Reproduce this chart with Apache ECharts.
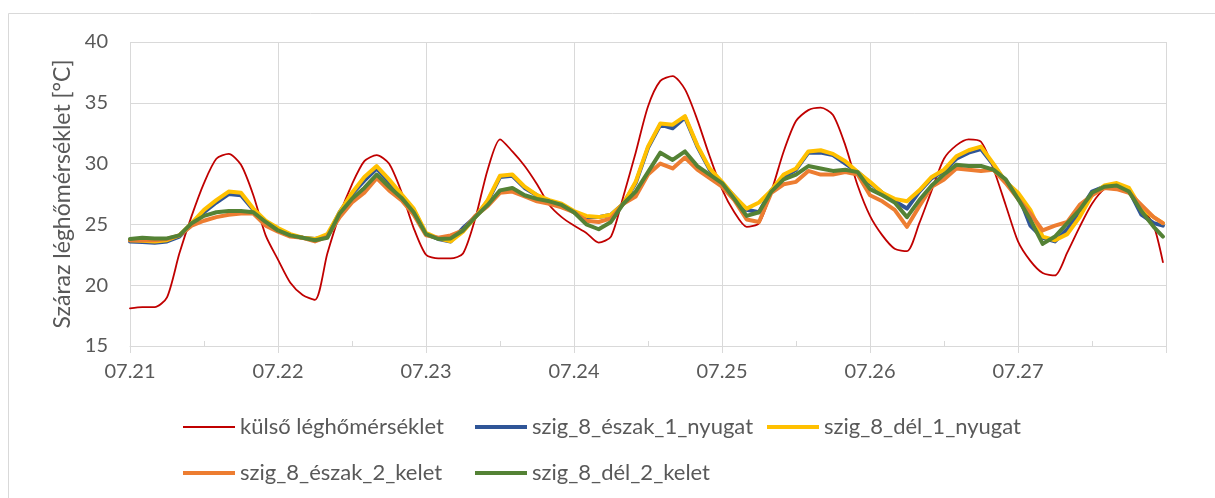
<!DOCTYPE html>
<html>
<head>
<meta charset="utf-8">
<script src="https://cdn.jsdelivr.net/npm/echarts@6/dist/echarts.min.js"></script>
<style>
  html, body { margin: 0; padding: 0; background: #ffffff; }
  #chart { width: 1215px; height: 498px; }
</style>
</head>
<body>
<div id="chart"></div>
<script>
// Hour offsets from 07.21 00:00 (two-hourly readings, last reading late on 07.27)
const hours = [
  0, 2, 4, 6, 8, 10, 12, 14, 16, 18, 20, 22,
  24, 26, 28, 30, 32, 34, 36, 38, 40, 42, 44, 46,
  48, 50, 52, 54, 56, 58, 60, 62, 64, 66, 68, 70,
  72, 74, 76, 78, 80, 82, 84, 86, 88, 90, 92, 94,
  96, 98, 100, 102, 104, 106, 108, 110, 112, 114, 116, 118,
  120, 122, 124, 126, 128, 130, 132, 134, 136, 138, 140, 142,
  144, 146, 148, 150, 152, 154, 156, 158, 160, 162, 164, 166, 167.5
];

const dayLabels = ['07.21', '07.22', '07.23', '07.24', '07.25', '07.26', '07.27'];

const seriesNames = [
  'külső léghőmérséklet',
  'szig_8_észak_1_nyugat',
  'szig_8_dél_1_nyugat',
  'szig_8_észak_2_kelet',
  'szig_8_dél_2_kelet'
];

// külső léghőmérséklet [°C]
const kulso = [
  18.1, 18.2, 18.2, 19.0, 22.6, 25.7, 28.4, 30.4, 30.8, 29.9, 27.4, 24.1,
  22.1, 20.2, 19.2, 18.8, 22.6, 25.8, 28.3, 30.2, 30.7, 30.0, 27.7, 24.7,
  22.5, 22.2, 22.2, 22.6, 25.5, 29.5, 32.0, 31.0, 29.8, 28.3, 26.6, 25.6,
  24.9, 24.3, 23.5, 24.0, 27.3, 30.9, 34.7, 36.8, 37.2, 36.1, 33.6, 30.6,
  27.9, 26.0, 24.8, 25.1, 27.7, 31.0, 33.5, 34.4, 34.6, 34.0, 31.5, 28.2,
  25.7, 24.1, 23.0, 22.8, 25.1, 27.8, 30.4, 31.5, 32.0, 31.8, 29.6, 26.6,
  23.6, 22.0, 21.0, 20.8, 22.7, 24.8, 26.7, 27.9, 28.2, 27.8, 26.5, 24.9, 21.9
];

// szig_8_észak_1_nyugat
const eszak1 = [
  23.6, 23.55, 23.5, 23.6, 24.0, 25.0, 26.0, 26.8, 27.5, 27.4, 26.2, 25.1,
  24.6, 24.1, 23.9, 23.8, 24.0, 26.0, 27.5, 28.6, 29.6, 28.5, 27.4, 26.2,
  24.2, 23.8, 23.6, 24.7, 25.6, 26.9, 28.9, 29.0, 28.0, 27.4, 26.9, 26.6,
  26.0, 25.6, 25.6, 25.8, 26.7, 28.4, 31.3, 33.2, 32.9, 33.8, 31.4, 29.5,
  28.4, 27.3, 26.2, 26.0, 27.8, 28.9, 29.5, 30.9, 30.9, 30.7, 30.0, 29.3,
  28.4, 27.6, 26.9, 26.3, 27.7, 28.8, 29.4, 30.4, 30.9, 31.2, 29.9, 28.5,
  27.5, 24.9, 23.9, 23.6, 24.6, 26.1, 27.7, 28.1, 28.2, 27.8, 25.8, 25.1, 24.9
];

// szig_8_dél_1_nyugat
const del1 = [
  23.7, 23.65, 23.6, 23.7, 24.1, 25.1, 26.2, 27.0, 27.7, 27.6, 26.3, 25.3,
  24.7, 24.2, 23.9, 23.8, 24.2, 26.0, 27.6, 28.9, 29.8, 28.7, 27.5, 26.3,
  24.3, 23.85, 23.6, 24.4, 25.6, 27.0, 29.0, 29.1, 28.1, 27.4, 27.0, 26.7,
  26.1, 25.7, 25.6, 25.8, 26.7, 28.5, 31.4, 33.3, 33.2, 33.9, 31.5, 29.6,
  28.5, 27.3, 26.3, 26.8, 27.8, 29.1, 29.6, 31.0, 31.1, 30.8, 30.2, 29.3,
  28.5, 27.6, 27.1, 26.9, 27.8, 28.9, 29.5, 30.6, 31.1, 31.4, 30.0, 28.5,
  27.6, 26.2, 24.0, 23.7, 24.2, 25.6, 27.4, 28.2, 28.4, 28.0, 26.3, 25.6, 25.1
];

// szig_8_észak_2_kelet
const eszak2 = [
  23.7, 23.7, 23.7, 23.8, 24.1, 24.9, 25.3, 25.6, 25.8, 25.9, 25.9, 24.9,
  24.4, 24.0, 23.9, 23.6, 24.0, 25.6, 26.8, 27.6, 28.8, 27.8, 27.0, 25.8,
  24.1, 23.9, 24.1, 24.5, 25.7, 26.5, 27.6, 27.7, 27.3, 26.9, 26.7, 26.4,
  26.0, 25.3, 25.2, 25.5, 26.7, 27.3, 29.1, 30.0, 29.6, 30.5, 29.5, 28.8,
  28.1, 27.0, 25.4, 25.2, 27.6, 28.3, 28.5, 29.4, 29.1, 29.1, 29.3, 29.1,
  27.4, 26.9, 26.2, 24.8, 26.5, 28.1, 28.7, 29.6, 29.5, 29.4, 29.5, 28.4,
  27.1, 25.9, 24.5, 24.9, 25.2, 26.6, 27.4, 28.0, 27.9, 27.6, 26.6, 25.6, 25.1
];

// szig_8_dél_2_kelet
const del2 = [
  23.8, 23.9, 23.85, 23.85, 24.1, 25.1, 25.7, 26.0, 26.1, 26.1, 26.0, 25.2,
  24.5, 24.1, 23.9, 23.7, 23.9, 25.9, 27.1, 28.0, 29.1, 28.1, 27.2, 26.0,
  24.2, 23.8, 23.85, 24.5, 25.6, 26.6, 27.8, 28.0, 27.4, 27.1, 26.9, 26.6,
  26.0, 25.0, 24.6, 25.2, 26.7, 27.7, 29.3, 30.9, 30.3, 31.0, 29.8, 29.1,
  28.4, 27.1, 25.7, 26.0, 27.7, 28.7, 29.1, 29.8, 29.6, 29.4, 29.5, 29.3,
  27.9, 27.4, 26.8, 25.6, 27.0, 28.2, 29.1, 29.9, 29.8, 29.8, 29.5, 28.7,
  27.1, 25.4, 23.4, 24.0, 25.1, 26.2, 27.6, 28.1, 28.2, 27.7, 26.1, 24.8, 24.0
];

const valueArrays = [kulso, eszak1, del1, eszak2, del2];
const colors = ['#C00000', '#2F5597', '#FFC000', '#ED7D31', '#548235'];
const widths = [1.8, 4, 4, 4, 4];

const textColor = '#595959';
const gridColor = '#D9D9D9';
const fontFamily = 'Lato, "Open Sans", sans-serif';

const series = seriesNames.map((name, i) => ({
  name: name,
  type: 'line',
  symbol: 'none',
  showSymbol: false,
  // the outdoor temperature follows a gently rounded daily curve
  smooth: i === 0 ? 0.25 : false,
  data: hours.map((h, k) => [h, valueArrays[i][k]]),
  lineStyle: { color: colors[i], width: widths[i], join: 'round', cap: 'round' },
  itemStyle: { color: colors[i] },
  z: 2 + i
}));

// one legend block per series so that the two rows line up in columns
const legendSlots = [
  { left: 183, top: 416 },
  { left: 475, top: 416 },
  { left: 767, top: 416 },
  { left: 183, top: 462 },
  { left: 475, top: 462 }
];
const legends = seriesNames.map((name, i) => ({
  data: [{ name: name, icon: 'rect' }],
  left: legendSlots[i].left,
  top: legendSlots[i].top,
  itemWidth: 52,
  itemHeight: widths[i] === 4 ? 4 : 2,
  itemGap: 0,
  padding: 0,
  selectedMode: false,
  itemStyle: { color: colors[i], borderWidth: 0 },
  textStyle: { color: textColor, fontSize: 22, fontFamily: fontFamily }
}));

const chart = echarts.init(document.getElementById('chart'), null, { renderer: 'canvas' });
chart.setOption({
  animation: false,
  backgroundColor: '#ffffff',
  color: colors,
  graphic: [{
    type: 'rect',
    silent: true,
    shape: { x: 8.5, y: 13.5, width: 1230, height: 510 },
    style: { fill: 'none', stroke: gridColor, lineWidth: 1 }
  }],
  legend: legends,
  grid: { left: 130, right: 49, top: 42, bottom: 152, containLabel: false },
  xAxis: [{
    type: 'value',
    min: 0,
    max: 168,
    interval: 24,
    axisLine: { show: true, lineStyle: { color: gridColor, width: 1 } },
    axisTick: { show: true, inside: false, length: 7, lineStyle: { color: gridColor, width: 1 } },
    axisLabel: {
      color: textColor,
      fontSize: 20,
      fontFamily: fontFamily,
      margin: 16,
      formatter: v => dayLabels[Math.round(v / 24)] || ''
    },
    splitLine: { show: true, lineStyle: { color: gridColor, width: 1 } }
  }, {
    // half-day tick marks pointing into the plot
    type: 'value',
    min: 0,
    max: 168,
    interval: 12,
    position: 'bottom',
    axisLine: { show: false },
    axisTick: { show: true, inside: true, length: 5, lineStyle: { color: gridColor, width: 1 } },
    axisLabel: { show: false },
    splitLine: { show: false }
  }],
  yAxis: {
    type: 'value',
    min: 15,
    max: 40,
    interval: 5,
    name: 'Száraz léghőmérséklet [°C]',
    nameLocation: 'middle',
    nameGap: 55,
    nameTextStyle: { color: textColor, fontSize: 23, fontFamily: fontFamily },
    axisLine: { show: false },
    axisTick: { show: false },
    axisLabel: { color: textColor, fontSize: 20, fontFamily: fontFamily, margin: 22 },
    splitLine: { show: true, lineStyle: { color: gridColor, width: 1 } }
  },
  series: series
});
</script>
</body>
</html>
